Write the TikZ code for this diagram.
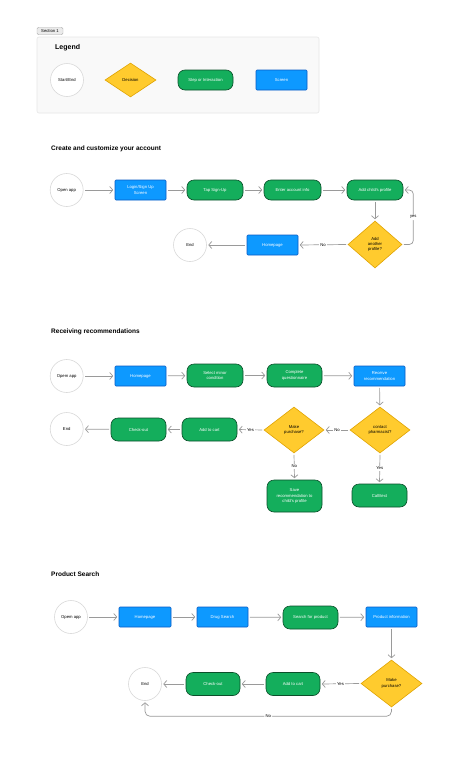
\documentclass[tikz,border=0pt]{standalone}
\usepackage{fontspec}
\setmainfont{Liberation Sans}
\usetikzlibrary{shapes.geometric,arrows.meta,positioning}
\definecolor{stepfill}{HTML}{14AE5C}
\definecolor{stepline}{HTML}{0B4F2A}
\definecolor{scrfill}{HTML}{0D99FF}
\definecolor{scrline}{HTML}{0A5BC4}
\definecolor{decfill}{HTML}{FFCB2E}
\definecolor{decline}{HTML}{E0A300}
\definecolor{circline}{HTML}{D9D9D9}
\definecolor{arrowgray}{HTML}{9A9A9A}
\definecolor{legfill}{HTML}{F9F9F9}
\definecolor{legline}{HTML}{E6E6E6}
\definecolor{seclblfill}{HTML}{EBEBEB}
\definecolor{seclblline}{HTML}{B3B3B3}
\tikzset{
  small/.style={font=\fontsize{4.2}{5.2}\selectfont},
  startend/.style={circle, draw=circline, fill=white, line width=0.6pt, minimum size=33pt, inner sep=0pt, small, text=black},
  decision/.style={diamond, draw=decline, fill=decfill, line width=0.6pt, inner sep=0pt, small, text=black, align=center},
  stepbox/.style={rectangle, rounded corners=7pt, draw=stepline, fill=stepfill, line width=0.6pt, minimum width=56pt, minimum height=23pt, inner sep=1pt, small, text=white, align=center},
  screen/.style={rectangle, rounded corners=1pt, draw=scrline, fill=scrfill, line width=0.6pt, minimum width=51pt, minimum height=20pt, inner sep=1pt, small, text=white, align=center},
  flow/.style={draw=arrowgray, line width=0.7pt, -{Straight Barb[length=3pt,width=7pt,line width=0.7pt]}, shorten >=1.5pt, shorten <=1.5pt},
  lbl/.style={fill=white, inner sep=1.2pt, small, text=black},
  title/.style={anchor=west, font=\bfseries\fontsize{6.5}{8}\selectfont, inner sep=0pt}
}
\begin{document}
\begin{tikzpicture}[x=1pt,y=-1pt]
\useasboundingbox[fill=white] (0,0) rectangle (458,758);

% ---------- Legend ----------
\node[draw=seclblline, fill=seclblfill, rounded corners=1.5pt, line width=0.4pt, minimum width=26pt, minimum height=7.5pt, inner sep=0.5pt, font=\fontsize{4.2}{5}\selectfont] (seclabel) at (50,31) {Section 1};
\node[draw=legline, fill=legfill, rounded corners=2pt, line width=0.6pt, minimum width=282pt, minimum height=76pt, inner sep=0pt] (legendbox) at (178,75) {};
\node[title, font=\bfseries\fontsize{7}{8}\selectfont] (legendtitle) at (55,48) {Legend};
\node[startend] (lgstart) at (67,80) {Start/End};
\node[decision, minimum width=51pt, minimum height=34pt] (lgdec) at (130.5,80) {Decision};
\node[stepbox, minimum width=55pt, minimum height=20pt] (lgstep) at (205.5,80) {Step or Interaction};
\node[screen] (lgscreen) at (281.5,80) {Screen};

% ---------- Section 1 ----------
\node[title] (t1) at (51,149) {Create and customize your account};
\node[startend] (s1open) at (66.7,190) {Open app};
\node[screen] (s1login) at (140.5,190) {Login/Sign Up\\Screen};
\node[stepbox, minimum height=20pt] (s1tap) at (215,190) {Tap Sign-Up};
\node[stepbox, minimum width=57pt, minimum height=20pt] (s1enter) at (292.5,190) {Enter account info};
\node[stepbox, minimum height=20pt] (s1add) at (375,190) {Add child's profile};
\node[decision, minimum width=54pt, minimum height=47pt] (s1dec) at (375,244.5) {Add\\another\\profile?};
\node[screen] (s1home) at (272.5,245) {Homepage};
\node[startend] (s1end) at (190,245) {End};

\draw[flow] (s1open) -- (s1login);
\draw[flow] (s1login) -- (s1tap);
\draw[flow] (s1tap) -- (s1enter);
\draw[flow] (s1enter) -- (s1add);
\draw[flow] (s1add) -- (s1dec);
\draw[flow, rounded corners=4pt] (s1dec.east) -- ++(11,0) |- node[lbl, pos=0.25] {yes} (s1add.east);
\draw[flow] (s1dec.west) -- node[lbl] {No} (s1home.east);
\draw[flow] (s1home) -- (s1end);

% ---------- Section 2 ----------
\node[title] (t2) at (51,332) {Receiving recommendations};
\node[startend] (s2open) at (66.7,376) {Opem app};
\node[screen] (s2home) at (140.5,376) {Homepage};
\node[stepbox] (s2select) at (215,375.5) {Select minor\\condition};
\node[stepbox, minimum width=55pt] (s2complete) at (294.5,375.5) {Complete\\questionnaire};
\node[screen] (s2receive) at (379.5,376) {Receive\\recommendation};
\node[decision, minimum width=60pt, minimum height=46pt] (s2contact) at (380,430) {contact\\pharmacist?};
\node[decision, minimum width=60pt, minimum height=46pt] (s2make) at (294,430) {Make\\purchase?};
\node[stepbox, minimum width=55pt] (s2cart) at (209.5,429.5) {Add to cart};
\node[stepbox, minimum width=55pt] (s2check) at (138.5,429.5) {Check-out};
\node[startend] (s2end) at (66.7,429) {End};
\node[stepbox, minimum width=55pt, minimum height=32pt] (s2save) at (294.5,496) {Save\\recommendation to\\child's profile};
\node[stepbox, minimum width=55pt] (s2call) at (379.5,495.5) {Call/text};

\draw[flow] (s2open) -- (s2home);
\draw[flow] (s2home) -- (s2select);
\draw[flow] (s2select) -- (s2complete);
\draw[flow] (s2complete) -- (s2receive);
\draw[flow] (s2receive) -- (s2contact);
\draw[flow] (s2contact.west) -- node[lbl] {No} (s2make.east);
\draw[flow] (s2make.west) -- node[lbl] {Yes} (s2cart.east);
\draw[flow] (s2cart) -- (s2check);
\draw[flow] (s2check) -- (s2end);
\draw[flow] (s2make.south) -- node[lbl] {No} (s2save.north);
\draw[flow] (s2contact.south) -- node[lbl] {Yes} (s2call.north);

% ---------- Section 3 ----------
\node[title] (t3) at (51,574) {Product Search};
\node[startend] (s3open) at (71,617) {Opem app};
\node[screen, minimum width=52pt] (s3home) at (145,617) {Homepage};
\node[screen] (s3drug) at (222.5,617) {Drug Search};
\node[stepbox, minimum width=55pt] (s3search) at (310.5,617.5) {Search for product};
\node[screen] (s3info) at (391.5,617) {Product information};
\node[decision, minimum width=61pt, minimum height=47pt] (s3make) at (391.5,683.5) {Make\\purchase?};
\node[stepbox, minimum width=54pt] (s3cart) at (293,684) {Add to cart};
\node[stepbox, minimum width=54pt] (s3check) at (213,684) {Check-out};
\node[startend] (s3end) at (145,684) {End};

\draw[flow] (s3open) -- (s3home);
\draw[flow] (s3home) -- (s3drug);
\draw[flow] (s3drug) -- (s3search);
\draw[flow] (s3search) -- (s3info);
\draw[flow] (s3info) -- (s3make);
\draw[flow] (s3make.west) -- node[lbl] {Yes} (s3cart.east);
\draw[flow] (s3cart) -- (s3check);
\draw[flow] (s3check) -- (s3end);
\draw[flow, rounded corners=5pt] (s3make.south) -- ++(0,9) -| node[lbl, pos=0.25] {No} (s3end.south);
\end{tikzpicture}
\end{document}
